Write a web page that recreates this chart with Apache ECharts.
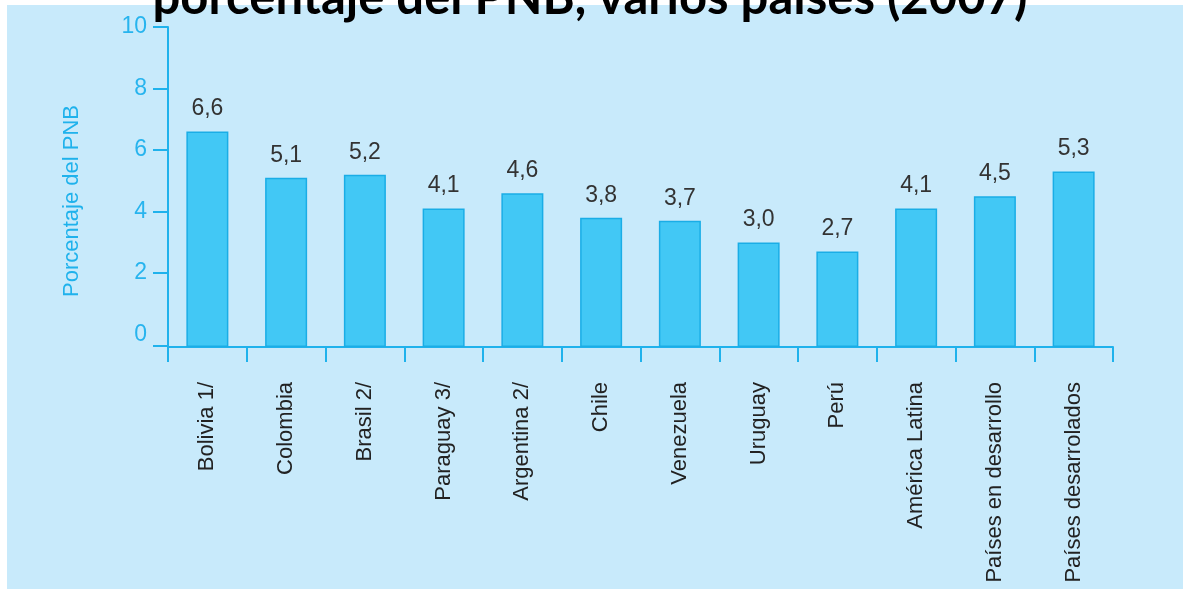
<!DOCTYPE html>
<html>
<head>
<meta charset="utf-8">
<script src="https://cdn.jsdelivr.net/npm/echarts@6/dist/echarts.min.js"></script>
<style>
	html, body { margin: 0; padding: 0; background: #fff; }
	#chart { width: 1183px; height: 589px; }
</style>
</head>
<body>
<div id="chart"></div>
<script>
	// data
	var categories = ['Bolivia 1/', 'Colombia', 'Brasil 2/', 'Paraguay 3/', 'Argentina 2/', 'Chile', 'Venezuela', 'Uruguay', 'Perú', 'América Latina', 'Países en desarrollo', 'Países desarrolados'];
	var values = [6.6, 5.1, 5.2, 4.1, 4.6, 3.8, 3.7, 3.0, 2.7, 4.1, 4.5, 5.3];
	var yTicks = [0, 2, 4, 6, 8, 10];
	var titleText = 'porcentaje del PNB, varios países (2007)';
	var yName = 'Porcentaje del PNB';

	var cyan = '#1fb2ec';
	var sans = '"Liberation Sans", Arial, sans-serif';
	// the zero of the scale sits a little above the drawn x axis
	var yFloor = -0.4;

	var chart = echarts.init(document.getElementById('chart'));

	var option = {
		animation: false,
		backgroundColor: '#fff',
		graphic: [
			{
				type: 'rect',
				z: -10,
				silent: true,
				shape: { x: 7, y: 5, width: 1176, height: 584 },
				style: { fill: '#c8eafb' }
			},
			{
				type: 'text',
				z: 100,
				silent: true,
				x: 590,
				y: 23,
				style: {
					text: titleText,
					fill: '#000',
					font: 'bold 49px Lato, "Open Sans", sans-serif',
					textAlign: 'center',
					textVerticalAlign: 'bottom'
				}
			}
		],
		grid: {
			left: 168,
			right: 70,
			top: 27,
			bottom: 242,
			containLabel: false,
			outerBoundsMode: 'none'
		},
		xAxis: {
			type: 'category',
			data: categories,
			boundaryGap: true,
			axisLine: { onZero: false, lineStyle: { color: cyan, width: 2 } },
			axisTick: {
				show: true,
				interval: 0,
				alignWithLabel: false,
				length: 15,
				lineStyle: { color: cyan, width: 2 }
			},
			axisLabel: {
				rotate: 90,
				margin: 35,
				interval: 0,
				color: '#222',
				fontFamily: sans,
				fontSize: 22
			}
		},
		yAxis: {
			type: 'value',
			min: yFloor,
			max: 10,
			startValue: yFloor,
			name: yName,
			nameLocation: 'middle',
			nameGap: 85,
			nameTextStyle: {
				color: cyan,
				fontFamily: sans,
				fontSize: 22,
				padding: [0, 28, 0, 0]
			},
			splitLine: { show: false },
			axisLine: { show: true, lineStyle: { color: cyan, width: 2 } },
			axisTick: {
				show: true,
				length: 15,
				customValues: [-0.35, 2, 4, 6, 8, 10],
				lineStyle: { color: cyan, width: 2 }
			},
			axisLabel: {
				customValues: yTicks,
				margin: 21,
				color: '#27b4ee',
				fontFamily: sans,
				fontSize: 23
			}
		},
		series: [
			{
				type: 'bar',
				data: values,
				barWidth: 42,
				itemStyle: {
					color: '#42c8f5',
					borderColor: '#1aade6',
					borderWidth: 1.5
				},
				label: {
					show: true,
					position: 'top',
					distance: 11,
					color: '#333',
					fontFamily: sans,
					fontSize: 23,
					formatter: function (p) {
						return p.value.toFixed(1).replace('.', ',');
					}
				}
			}
		]
	};

	chart.setOption(option);
</script>
</body>
</html>
